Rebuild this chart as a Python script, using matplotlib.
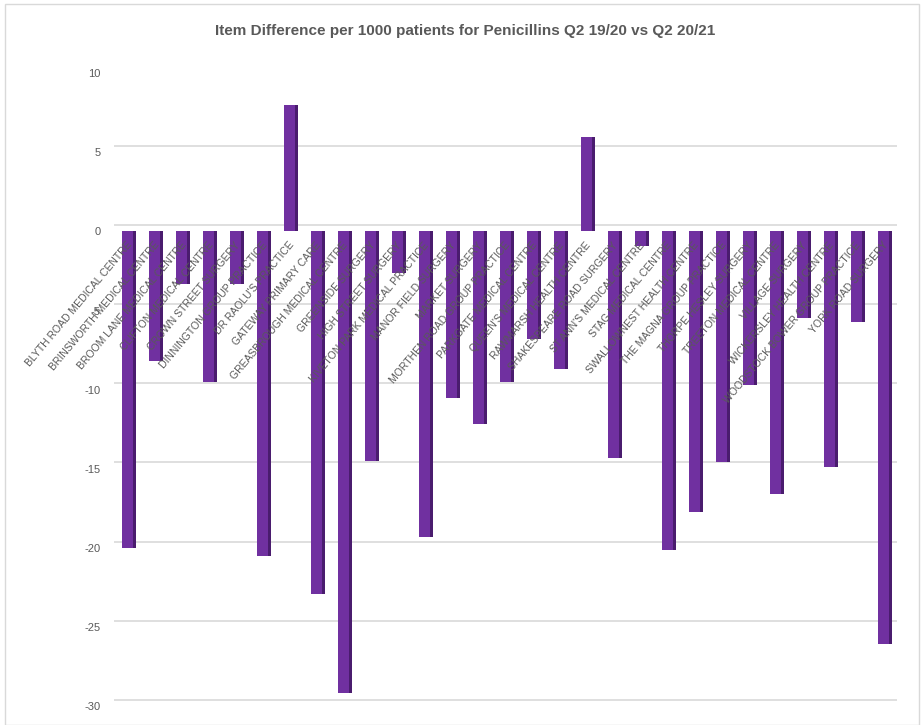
import matplotlib
matplotlib.use("Agg")
import matplotlib.pyplot as plt
from matplotlib import font_manager
import numpy as np
from matplotlib.patches import Rectangle

categories = [
    "BLYTH ROAD MEDICAL CENTRE", "BRINSWORTH MEDICAL CENTRE", "BROOM LANE MEDICAL CENTRE",
    "CLIFTON MEDICAL CENTRE", "CROWN STREET SURGERY", "DINNINGTON GROUP PRACTICE",
    "DR RAOLU'S PRACTICE", "GATEWAY PRIMARY CARE", "GREASBROUGH MEDICAL CENTRE",
    "GREENSIDE SURGERY", "HIGH STREET SURGERY", "KIVETON PARK MEDICAL PRACTICE",
    "MANOR FIELD SURGERY", "MARKET SURGERY", "MORTHEN ROAD GROUP PRACTICE",
    "PARKGATE MEDICAL CENTRE", "QUEEN'S MEDICAL CENTRE", "RAWMARSH HEALTH CENTRE",
    "SHAKESPEARE ROAD SURGERY", "ST ANN'S MEDICAL CENTRE", "STAG MEDICAL CENTRE",
    "SWALLOWNEST HEALTH CENTRE", "THE MAGNA GROUP PRACTICE", "THORPE HESLEY SURGERY",
    "TREETON MEDICAL CENTRE", "VILLAGE SURGERY", "WICKERSLEY HEALTH CENTRE",
    "WOODSTOCK BOWER GROUP PRACTICE", "YORK ROAD SURGERY",
]
values = [
    -20.0, -8.2, -3.3, -9.5, -3.3, -20.5,
    8.0, -22.9, -29.2, -14.5, -2.6, -19.3,
    -10.5, -12.2, -9.5, -6.8, -8.7, 6.0,
    -14.3, -0.9, -20.1, -17.7, -14.6, -9.7,
    -16.6, -5.5, -14.9, -5.7, -26.1,
]
yticks = [10, 5, 0, -5, -10, -15, -20, -25, -30]
title = "Item Difference per 1000 patients for Penicillins Q2 19/20 vs Q2 20/21"

installed = {f.name for f in font_manager.fontManager.ttflist}
narrow = "Liberation Sans Narrow" in installed
if narrow:
    fam = ["Liberation Sans Narrow", "DejaVu Sans"]
    title_fs, lab_fs, tick_fs = 13, 8.6, 9
else:
    fam = ["Liberation Sans", "DejaVu Sans"]
    title_fs, lab_fs, tick_fs = 11, 7.5, 8

fig = plt.figure(figsize=(9.21, 7.25), dpi=100)
fig.patches.append(Rectangle((0.005, 0.0), 0.993, 0.995, transform=fig.transFigure,
                             fill=False, edgecolor="#D9D9D9", linewidth=1.0))

ax = fig.add_axes([0.124, 0.026, 0.850, 0.873])
x = np.arange(len(categories))
ax.set_xlim(-0.5, len(categories) - 0.5)
ax.set_ylim(-30, 10)

for y in yticks:
    ax.axhline(y + 0.4, color="#D9D9D9", linewidth=1.2, zorder=0)

# side face (depth) and front face
ax.bar(x + 0.25, values, width=0.14, color="#4A1C6E", zorder=2)
ax.bar(x, values, width=0.40, color="#7030A0", zorder=3)

ax.set_yticks(yticks)
ax.set_yticklabels([str(v) for v in yticks], fontsize=tick_fs, color="#595959",
                   family=fam)
ax.tick_params(axis="y", length=0, pad=10)
ax.set_xticks([])
for s in ax.spines.values():
    s.set_visible(False)

for xi, name in zip(x, categories):
    ax.text(xi - 0.05, -0.55, name, rotation=50, ha="right", va="top",
            rotation_mode="anchor", fontsize=lab_fs, color="#595959",
            family=fam, zorder=4)

fig.text(0.505, 0.957, title, ha="center", va="center", fontsize=title_fs,
         fontweight="bold", color="#595959", family=fam)

fig.savefig("out.png", dpi=100)
